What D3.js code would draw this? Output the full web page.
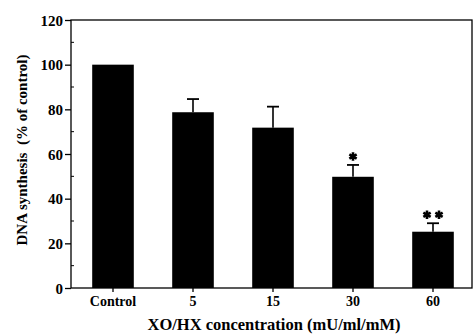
<!DOCTYPE html>
<html lang="en">
<head>
  <meta charset="UTF-8">
  <title>dna-synthesis</title>
  <script src="https://cdn.jsdelivr.net/npm/d3@7"></script>
  <style>
  body { margin: 0; background: #fff; }
  text { font-family: "Liberation Serif", "Times New Roman", serif; font-weight: bold; fill: #000; }
  </style>
</head>
<body>
<script type="text/javascript">
let categories = ['Control', '5', '15', '30', '60'];
let means = [100, 78.7, 71.8, 49.8, 25.2];
let errors = [0, 5.9, 9.4, 5.3, 3.8];
let stars = [0, 0, 0, 1, 2];
let yTicks = [0, 20, 40, 60, 80, 100, 120];

let width = 473;
let height = 336;
let plotLeft = 71, plotRight = 472, plotTop = 20, plotBottom = 288;

let svg = d3.select('body').append('svg')
  .attr('width', width)
  .attr('height', height);

let x = d3.scaleBand()
  .domain(categories)
  .range([73, 473])
  .paddingInner(0.48)
  .paddingOuter(0.24);

let y = d3.scaleLinear()
  .domain([0, 120])
  .range([plotBottom, plotTop]);

let cx = d => x(d) + x.bandwidth() / 2;
let capY = (d, i) => y(means[i] + errors[i]);

// frame
svg.append('rect')
  .attr('x', plotLeft).attr('y', plotTop)
  .attr('width', plotRight - plotLeft).attr('height', plotBottom - plotTop)
  .attr('fill', 'none').attr('stroke', '#000').attr('stroke-width', 1.3);

// bars
svg.selectAll('.bar')
  .data(categories)
  .enter().append('rect')
  .attr('class', 'bar')
  .attr('x', d => x(d))
  .attr('width', x.bandwidth())
  .attr('y', (d, i) => y(means[i]))
  .attr('height', (d, i) => y(0) - y(means[i]))
  .attr('fill', '#000');

// error bars (upper only)
let eb = svg.selectAll('.err')
  .data(categories)
  .enter().append('g')
  .attr('class', 'err')
  .style('display', (d, i) => errors[i] > 0 ? null : 'none');
eb.append('line')
  .attr('x1', cx).attr('x2', cx)
  .attr('y1', (d, i) => y(means[i]))
  .attr('y2', capY)
  .attr('stroke', '#000').attr('stroke-width', 1.6);
eb.append('line')
  .attr('x1', d => cx(d) - 6)
  .attr('x2', d => cx(d) + 6)
  .attr('y1', capY).attr('y2', capY)
  .attr('stroke', '#000').attr('stroke-width', 1.8);

// significance stars
let star = d3.symbol(d3.symbolAsterisk, 50);
categories.forEach((d, i) => {
  for (let k = 0; k < stars[i]; k++) {
    let sx = cx(d) + (k - (stars[i] - 1) / 2) * 12;
    svg.append('path')
      .attr('d', star())
      .attr('transform', 'translate(' + sx + ',' + (capY(d, i) - 8.5) + ')')
      .attr('fill', 'none')
      .attr('stroke', '#000')
      .attr('stroke-width', 2.6);
  }
});

// y axis
let yAxis = d3.axisLeft(y)
  .tickValues(yTicks)
  .tickSize(6)
  .tickPadding(2);
let gy = svg.append('g')
  .attr('transform', 'translate(' + plotLeft + ',0)')
  .call(yAxis);
gy.select('.domain').remove();
gy.selectAll('line').attr('stroke-width', 1.3);
gy.selectAll('text').style('font-size', '15px').attr('dy', '0.34em');

// minor ticks inside
svg.selectAll('.minor')
  .data(d3.range(10, 120, 20))
  .enter().append('line')
  .attr('x1', plotLeft).attr('x2', plotLeft + 3)
  .attr('y1', d => y(d)).attr('y2', d => y(d))
  .attr('stroke', '#000').attr('stroke-width', 1);

// x axis
let xAxis = d3.axisBottom(x)
  .tickSize(4)
  .tickPadding(4);
let gx = svg.append('g')
  .attr('transform', 'translate(0,' + plotBottom + ')')
  .call(xAxis);
gx.select('.domain').remove();
gx.selectAll('line').attr('stroke-width', 1.3);
gx.selectAll('text').style('font-size', '14px');

// axis titles
svg.append('text')
  .attr('x', 274)
  .attr('y', 330)
  .attr('text-anchor', 'middle')
  .style('font-size', '16.5px')
  .text('XO/HX concentration (mU/ml/mM)');

svg.append('text')
  .attr('transform', 'translate(27,150) rotate(-90)')
  .attr('text-anchor', 'middle')
  .style('font-size', '15px')
  .attr('xml:space', 'preserve')
  .text('DNA synthesis  (% of control)');
</script>
</body>
</html>
